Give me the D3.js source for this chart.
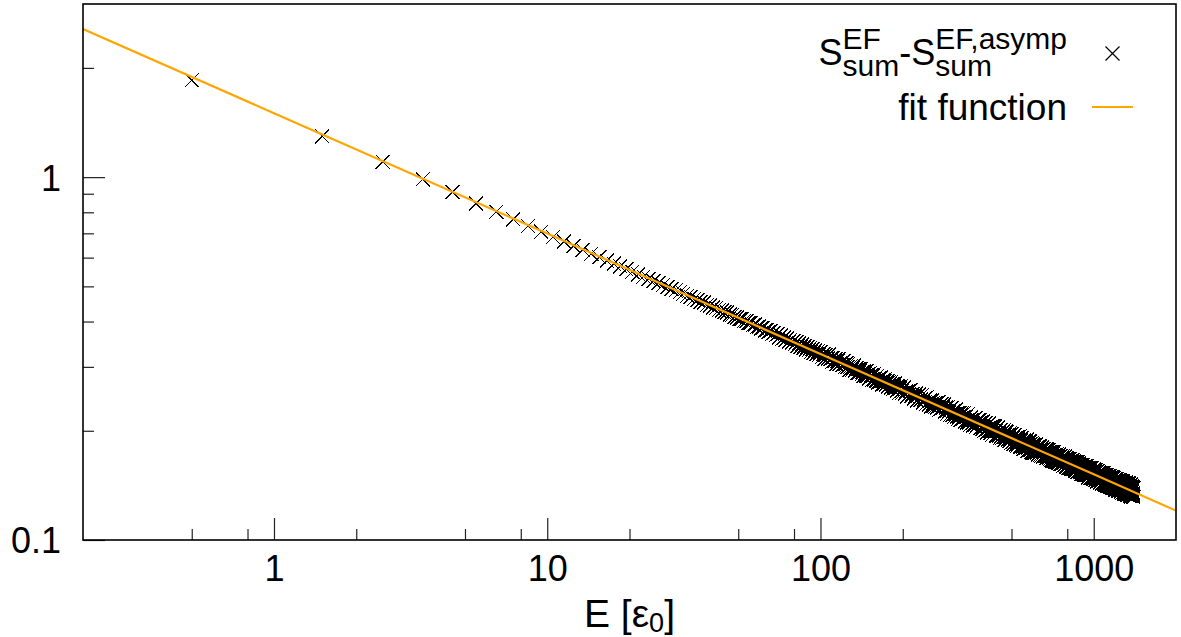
<!DOCTYPE html>
<html><head><meta charset="utf-8">
<script src="https://cdn.jsdelivr.net/npm/d3@7"></script>
<style>
body{margin:0;background:#fff}
svg{display:block}
text{font-family:"Liberation Sans",Arial,Helvetica,sans-serif;fill:#000}
</style>
</head><body>
<svg id="c" width="1181" height="637"></svg>
<script>
// ---------------- data ----------------
const xDomain = [0.2, 2000];
const yDomain = [0.1, 3];
const xMajorTicks = [1, 10, 100, 1000];
const xMinorTicks = [0.5, 0.8, 2, 5, 8, 20, 50, 80, 200, 500, 800];
const yMajorTicks = [0.1, 1];
const yMinorTicks = [0.2, 0.3, 0.4, 0.5, 0.6, 0.7, 0.8, 0.9, 2];

// individually resolved points (E = 0.5 ... 99.5)
const energyLow = [0.5,1.5,2.5,3.5,4.5,5.5,6.5,7.5,8.5,9.5,
 10.5,11.5,12.5,13.5,14.5,15.5,16.5,17.5,18.5,19.5,
 20.5,21.5,22.5,23.5,24.5,25.5,26.5,27.5,28.5,29.5,
 30.5,31.5,32.5,33.5,34.5,35.5,36.5,37.5,38.5,39.5,
 40.5,41.5,42.5,43.5,44.5,45.5,46.5,47.5,48.5,49.5,
 50.5,51.5,52.5,53.5,54.5,55.5,56.5,57.5,58.5,59.5,
 60.5,61.5,62.5,63.5,64.5,65.5,66.5,67.5,68.5,69.5,
 70.5,71.5,72.5,73.5,74.5,75.5,76.5,77.5,78.5,79.5,
 80.5,81.5,82.5,83.5,84.5,85.5,86.5,87.5,88.5,89.5,
 90.5,91.5,92.5,93.5,94.5,95.5,96.5,97.5,98.5,99.5];
const sumLow = [1.850,1.297,1.102,0.986,0.908,0.846,0.802,0.766,0.733,0.707,
 0.684,0.664,0.646,0.630,0.615,0.602,0.589,0.578,0.568,0.557,
 0.549,0.540,0.532,0.525,0.517,0.511,0.504,0.498,0.492,0.487,
 0.481,0.478,0.471,0.468,0.462,0.459,0.453,0.451,0.445,0.443,
 0.437,0.436,0.430,0.429,0.424,0.423,0.418,0.417,0.412,0.411,
 0.406,0.407,0.401,0.401,0.396,0.397,0.391,0.392,0.386,0.388,
 0.382,0.384,0.378,0.380,0.374,0.376,0.370,0.372,0.366,0.369,
 0.362,0.366,0.359,0.362,0.356,0.359,0.352,0.356,0.350,0.353,
 0.346,0.351,0.343,0.348,0.340,0.345,0.338,0.343,0.335,0.340,
 0.333,0.338,0.330,0.336,0.328,0.333,0.325,0.331,0.323,0.329];

// dense band, energy grid 100.5, 101.5, ... 199.5
const denseStart1 = 100.5, denseStep1 = 1;
const sumDense1 = [.330,.320,.325,.316,.324,.320,.316,.324,.315,.317,
 .310,.318,.312,.315,.305,.312,.315,.306,.308,.303,
 .303,.311,.299,.305,.307,.300,.306,.294,.300,.302,
 .294,.299,.303,.293,.295,.298,.289,.296,.290,.292,
 .296,.286,.291,.283,.291,.287,.284,.292,.283,.286,
 .279,.288,.282,.285,.276,.283,.286,.277,.279,.275,
 .275,.284,.272,.278,.280,.273,.280,.268,.274,.276,
 .269,.274,.278,.268,.270,.274,.265,.272,.266,.269,
 .272,.263,.269,.260,.269,.265,.262,.270,.262,.264,
 .258,.266,.261,.264,.255,.262,.265,.257,.259,.255];

// dense band, energy grid 201.5, 203.5, ... 1399.5
const denseStart2 = 201.5, denseStep2 = 2;
const sumDense2 = [
 .263,.253,.257,.249,.258,.253,.259,.249,.253,.245,
 .248,.253,.242,.250,.252,.243,.245,.251,.239,.244,
 .246,.237,.248,.240,.236,.242,.233,.242,.238,.234,
 .232,.238,.239,.232,.240,.228,.234,.230,.237,.231,
 .232,.236,.226,.232,.227,.223,.233,.226,.221,.230,
 .231,.221,.226,.218,.227,.222,.229,.219,.224,.216,
 .219,.224,.214,.221,.224,.216,.218,.224,.212,.218,
 .220,.211,.222,.214,.211,.216,.208,.218,.214,.210,
 .207,.214,.216,.208,.217,.205,.211,.208,.214,.209,
 .210,.214,.204,.211,.205,.202,.212,.205,.200,.210,
 .210,.201,.206,.198,.207,.203,.209,.200,.205,.197,
 .200,.206,.195,.203,.206,.197,.200,.206,.194,.200,
 .202,.194,.204,.197,.194,.199,.191,.201,.197,.193,
 .191,.198,.199,.192,.201,.189,.195,.192,.199,.193,
 .194,.199,.189,.195,.190,.187,.197,.190,.185,.195,
 .196,.186,.191,.184,.193,.188,.195,.186,.191,.183,
 .186,.192,.182,.189,.192,.184,.187,.193,.181,.187,
 .189,.181,.191,.184,.181,.187,.178,.188,.185,.181,
 .179,.185,.187,.180,.189,.176,.183,.180,.187,.182,
 .182,.187,.177,.184,.179,.175,.185,.179,.174,.184,
 .183,.176,.180,.174,.182,.177,.183,.175,.180,.174,
 .176,.180,.172,.179,.181,.174,.176,.181,.172,.177,
 .179,.171,.180,.174,.172,.177,.170,.178,.175,.171,
 .170,.176,.177,.170,.178,.168,.174,.171,.177,.172,
 .173,.177,.169,.175,.169,.167,.175,.170,.166,.174,
 .175,.167,.171,.165,.173,.169,.175,.167,.171,.165,
 .167,.172,.164,.171,.172,.165,.168,.173,.164,.169,
 .170,.163,.172,.166,.164,.169,.162,.170,.167,.163,
 .162,.168,.169,.163,.170,.160,.166,.163,.169,.165,
 .166,.170,.161,.167,.162,.160,.168,.163,.159,.166,
 .167,.160,.164,.158,.166,.162,.167,.159,.164,.158,
 .160,.165,.157,.164,.165,.158,.161,.166,.157,.162,
 .164,.157,.165,.159,.157,.162,.155,.164,.161,.156,
 .155,.161,.162,.156,.164,.154,.160,.157,.162,.158,
 .159,.163,.155,.161,.156,.154,.161,.156,.152,.160,
 .161,.154,.158,.152,.159,.155,.161,.153,.158,.152,
 .154,.159,.151,.158,.159,.152,.155,.160,.151,.156,
 .158,.151,.160,.153,.151,.156,.149,.158,.155,.151,
 .150,.155,.156,.150,.158,.148,.154,.151,.157,.153,
 .154,.158,.149,.155,.150,.148,.156,.151,.147,.155,
 .156,.149,.152,.146,.154,.150,.156,.148,.153,.147,
 .149,.154,.145,.152,.154,.147,.150,.155,.146,.151,
 .153,.146,.154,.148,.146,.151,.144,.153,.150,.146,
 .145,.151,.152,.145,.153,.143,.149,.146,.152,.148,
 .149,.153,.145,.151,.145,.143,.151,.146,.142,.150,
 .151,.144,.148,.142,.150,.146,.151,.143,.148,.142,
 .144,.149,.141,.148,.150,.143,.145,.150,.141,.146,
 .148,.141,.150,.144,.142,.147,.140,.149,.145,.141,
 .140,.146,.147,.141,.149,.139,.145,.142,.148,.144,
 .145,.148,.140,.146,.141,.139,.147,.142,.138,.146,
 .147,.140,.143,.138,.145,.141,.147,.139,.144,.138,
 .140,.145,.137,.144,.146,.139,.141,.146,.137,.142,
 .144,.137,.146,.140,.138,.143,.136,.145,.142,.138,
 .136,.142,.143,.137,.145,.135,.141,.138,.144,.140,
 .141,.145,.137,.143,.137,.135,.143,.138,.134,.142,
 .143,.136,.140,.134,.142,.138,.144,.135,.140,.134,
 .136,.141,.133,.140,.142,.135,.138,.143,.134,.139,
 .141,.134,.143,.136,.134,.139,.132,.141,.138,.134,
 .133,.139,.140,.134,.142,.132,.138,.134,.140,.136,
 .137,.141,.133,.139,.134,.132,.140,.135,.131,.139];

// fit function
const fitE = [0.2, 1, 10, 100, 1000, 2000];
const fitS = [2.559, 1.500, 0.699, 0.3256, 0.1517, 0.1205];

// ---------------- drawing ----------------
const points = energyLow.map((e, i) => ({e, s: sumLow[i]}))
  .concat(sumDense1.map((s, i) => ({e: denseStart1 + i * denseStep1, s})))
  .concat(sumDense2.map((s, i) => ({e: denseStart2 + i * denseStep2, s})));
const fit = fitE.map((e, i) => ({e, s: fitS[i]}));

const L = 83, R = 1176, T = 4, B = 540;
const x = d3.scaleLog().domain(xDomain).range([L, R]);
const y = d3.scaleLog().domain(yDomain).range([B, T]);

const svg = d3.select('#c');
svg.append('rect').attr('width', 1181).attr('height', 637).attr('fill', '#fff');
svg.append('defs').append('clipPath').attr('id', 'clip')
  .append('rect').attr('x', L).attr('y', T).attr('width', R - L).attr('height', B - T);

const tickColor = '#222';
const gx = svg.append('g').attr('transform', `translate(0,${B})`);
gx.call(d3.axisBottom(x).tickValues(xMajorTicks).tickSize(-22).tickFormat(d3.format('d')));
const gxm = svg.append('g').attr('transform', `translate(0,${B})`);
gxm.call(d3.axisBottom(x).tickValues(xMinorTicks).tickSize(-11).tickFormat(''));
const gy = svg.append('g').attr('transform', `translate(${L},0)`);
gy.call(d3.axisLeft(y).tickValues(yMajorTicks).tickSize(-22).tickFormat(d3.format('~g')));
const gym = svg.append('g').attr('transform', `translate(${L},0)`);
gym.call(d3.axisLeft(y).tickValues(yMinorTicks).tickSize(-11).tickFormat(''));
[gx, gxm, gy, gym].forEach(g => {
  g.select('.domain').remove();
  g.selectAll('.tick line').attr('stroke', tickColor).attr('stroke-width', 1.2);
  g.selectAll('text').attr('font-size', 36).attr('font-family', '"Liberation Sans",Arial,sans-serif').attr('fill', '#000');
});
gx.selectAll('.tick text').attr('y', 41).attr('dy', 0);
gy.selectAll('.tick text').attr('x', -22).attr('dy', '0.36em');

// data crosses
const cross = 'M-7,-7L7,7M-7,7L7,-7';
svg.append('g').attr('clip-path', 'url(#clip)')
  .selectAll('path').data(points).join('path')
  .attr('d', cross)
  .attr('transform', d => `translate(${x(d.e)},${y(d.s)})`)
  .attr('fill', 'none').attr('stroke', '#000').attr('stroke-width', 1.2)
  .attr('shape-rendering', 'crispEdges');

// fit line
svg.append('path').datum(fit)
  .attr('clip-path', 'url(#clip)')
  .attr('d', d3.line().x(d => x(d.e)).y(d => y(d.s)))
  .attr('fill', 'none').attr('stroke', '#ffa500').attr('stroke-width', 2.2);

// frame
svg.append('rect').attr('x', L).attr('y', T).attr('width', R - L).attr('height', B - T)
  .attr('fill', 'none').attr('stroke', '#000').attr('stroke-width', 1.6);

// rich text (gnuplot-style stacked sub/superscripts) as ONE text element
function measure(str, size) {
  const t = svg.append('text').attr('font-size', size).text(str);
  const w = t.node().getComputedTextLength();
  t.remove();
  return w;
}
function richText(parts, baseline, mainSize, scriptSize, supDy, subDy) {
  let layout = [], cx = 0;
  parts.forEach(p => {
    if (p.t) {
      layout.push({str: p.t, x: cx, y: baseline, size: mainSize});
      cx += measure(p.t, mainSize);
    } else {
      let w = 0;
      if (p.sup) { layout.push({str: p.sup, x: cx, y: baseline - supDy, size: scriptSize}); w = Math.max(w, measure(p.sup, scriptSize)); }
      if (p.sub) { layout.push({str: p.sub, x: cx, y: baseline + subDy, size: scriptSize}); w = Math.max(w, measure(p.sub, scriptSize)); }
      cx += w;
    }
  });
  return {layout, width: cx};
}
function drawRich(rt, x0) {
  const t = svg.append('text');
  rt.layout.forEach(s => t.append('tspan').attr('x', x0 + s.x).attr('y', s.y).attr('font-size', s.size).text(s.str));
  return t;
}

// legend
const legendRight = 1067;
const r1 = richText([{t: 'S'}, {sup: 'EF', sub: 'sum'}, {t: '-S'}, {sup: 'EF,asymp', sub: 'sum'}], 65, 36, 30, 16, 11);
drawRich(r1, legendRight - r1.width);
svg.append('path').attr('d', cross).attr('transform', 'translate(1112.5,53.5)')
  .attr('fill', 'none').attr('stroke', '#000').attr('stroke-width', 1.2);

svg.append('text').attr('x', legendRight).attr('y', 120).attr('text-anchor', 'end')
  .attr('font-size', 37).text('fit function');
svg.append('line').attr('x1', 1092).attr('x2', 1133).attr('y1', 107).attr('y2', 107)
  .attr('stroke', '#ffa500').attr('stroke-width', 2.2);

// x axis title
const rt = richText([{t: 'E [ε'}, {sub: '0'}, {t: ']'}], 627, 39, 27, 0, 5);
drawRich(rt, (L + R) / 2 - rt.width / 2);
</script>
</body></html>
